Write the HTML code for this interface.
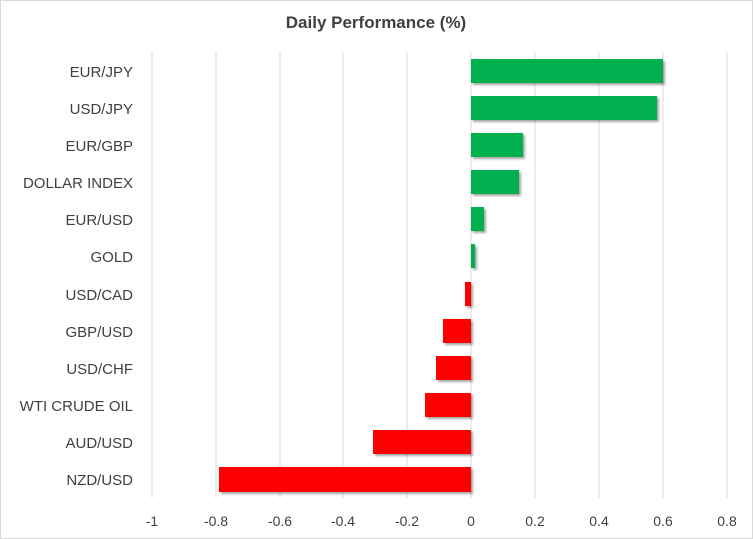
<!DOCTYPE html>
<html><head><meta charset="utf-8"><style>
body{margin:0;background:#fff}
svg{display:block;font-family:"Liberation Sans",sans-serif}
</style></head><body>
<svg width="753" height="539" viewBox="0 0 753 539">
<rect x="0.5" y="0.5" width="752" height="538" fill="#fff" stroke="#d9d9d9"/>
<text x="376" y="28" text-anchor="middle" font-size="17" font-weight="bold" fill="#404040">Daily Performance  (%)</text>
<g stroke="#d9d9d9" stroke-width="1">
<line x1="152" y1="52" x2="152" y2="498"/>
<line x1="216" y1="52" x2="216" y2="498"/>
<line x1="280" y1="52" x2="280" y2="498"/>
<line x1="343" y1="52" x2="343" y2="498"/>
<line x1="407" y1="52" x2="407" y2="498"/>
<line x1="471" y1="52" x2="471" y2="498"/>
<line x1="535" y1="52" x2="535" y2="498"/>
<line x1="599" y1="52" x2="599" y2="498"/>
<line x1="663" y1="52" x2="663" y2="498"/>
<line x1="727" y1="52" x2="727" y2="498"/>
</g>
<defs><filter id="s" x="-5%" y="-20%" width="115%" height="160%"><feDropShadow dx="2" dy="2" stdDeviation="1" flood-color="#000" flood-opacity="0.35"/></filter></defs>
<g filter="url(#s)">
<rect x="471" y="59" width="192" height="24" fill="#00b050"/>
<rect x="471" y="96" width="186" height="24" fill="#00b050"/>
<rect x="471" y="133" width="52" height="24" fill="#00b050"/>
<rect x="471" y="170" width="48" height="24" fill="#00b050"/>
<rect x="471" y="207" width="13" height="24" fill="#00b050"/>
<rect x="471" y="244" width="4" height="24" fill="#00b050"/>
<rect x="465" y="282" width="6" height="24" fill="#ff0000"/>
<rect x="443" y="319" width="28" height="24" fill="#ff0000"/>
<rect x="436" y="356" width="35" height="24" fill="#ff0000"/>
<rect x="425" y="393" width="46" height="24" fill="#ff0000"/>
<rect x="373" y="430" width="98" height="24" fill="#ff0000"/>
<rect x="219" y="467" width="252" height="25" fill="#ff0000"/>
</g>
<g font-size="15" fill="#404040" text-anchor="end">
<text x="133" y="77">EUR/JPY</text>
<text x="133" y="114">USD/JPY</text>
<text x="133" y="151">EUR/GBP</text>
<text x="133" y="188">DOLLAR INDEX</text>
<text x="133" y="225">EUR/USD</text>
<text x="133" y="262">GOLD</text>
<text x="133" y="300">USD/CAD</text>
<text x="133" y="337">GBP/USD</text>
<text x="133" y="374">USD/CHF</text>
<text x="133" y="411">WTI CRUDE OIL</text>
<text x="133" y="448">AUD/USD</text>
<text x="133" y="485">NZD/USD</text>
</g>
<g font-size="14" fill="#404040" text-anchor="middle">
<text x="152" y="526">-1</text>
<text x="216" y="526">-0.8</text>
<text x="280" y="526">-0.6</text>
<text x="343" y="526">-0.4</text>
<text x="407" y="526">-0.2</text>
<text x="471" y="526">0</text>
<text x="535" y="526">0.2</text>
<text x="599" y="526">0.4</text>
<text x="663" y="526">0.6</text>
<text x="727" y="526">0.8</text>
</g>
</svg>
</body></html>
